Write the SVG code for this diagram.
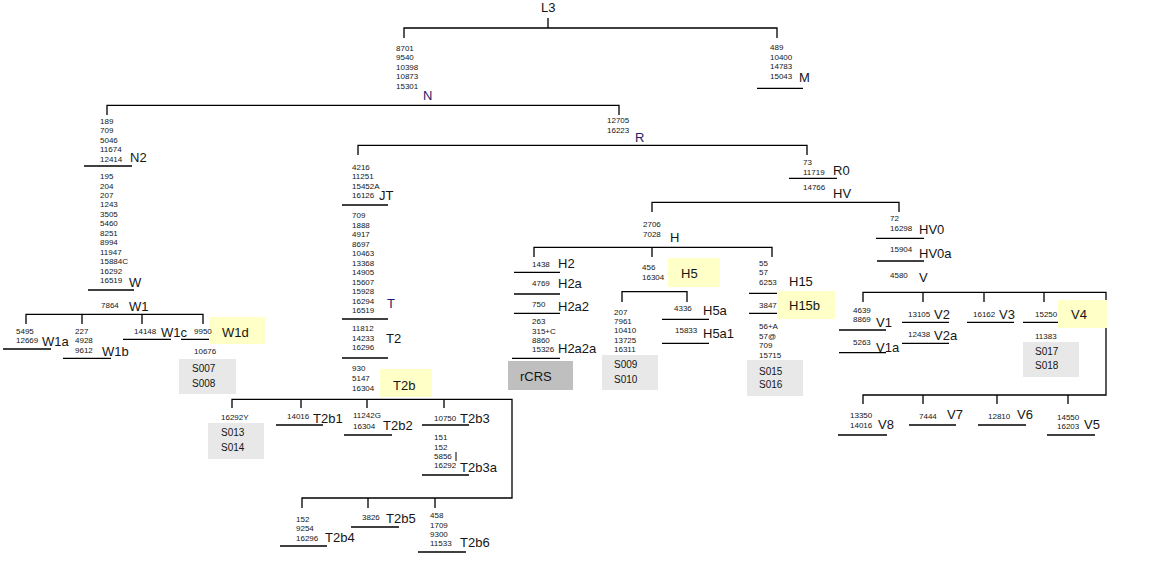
<svg xmlns="http://www.w3.org/2000/svg" width="1150" height="563" viewBox="0 0 1150 563">
<style>
text{font-family:"Liberation Sans",Arial,sans-serif;fill:#151515}
.m{font-size:8px}
.l{font-size:13px}
.s{font-size:10px}
.nv{fill:#1c1c6e}
.c line,.c path{stroke:#000;stroke-width:1.3;fill:none}
.hl{fill:#ffffc8}
.sb{fill:#e8e8e8}
</style>
<rect width="1150" height="563" fill="#fff"/>
<g class="c" id="connectors">
<path d="M548 18V28M404 38V28H777V38"/>
<line x1="757" y1="88.3" x2="803" y2="88.3"/>
<path d="M107 115V105.3H619V115"/>
<path d="M358 155V145.3H807V155"/>
<line x1="789" y1="178.3" x2="837" y2="178.3"/>
<path d="M652 212V202.3H899V212"/>
<path d="M534 257V247.3H772V257M652 247.3V257"/>
<line x1="514" y1="272.3" x2="560" y2="272.3"/>
<line x1="514" y1="294" x2="560" y2="294"/>
<line x1="514" y1="313.3" x2="560" y2="313.3"/>
<line x1="512" y1="358.3" x2="560" y2="358.3"/>
<path d="M622 302V291.7H687V302"/>
<line x1="662" y1="319.3" x2="709" y2="319.3"/>
<line x1="662" y1="343.3" x2="709" y2="343.3"/>
<line x1="749" y1="293.3" x2="792" y2="293.3"/>
<line x1="749" y1="313.3" x2="792" y2="313.3"/>
<line x1="876" y1="238.3" x2="924" y2="238.3"/>
<line x1="877" y1="261" x2="924" y2="261"/>
<path d="M863 302V292.3H1106V395H863V404M923 292.3V302M984 292.3V302M1044 292.3V302M923 395V404M997 395V404M1068 395V404"/>
<line x1="839" y1="330" x2="886" y2="330"/>
<line x1="839" y1="352.7" x2="886" y2="352.7"/>
<line x1="902" y1="322.3" x2="949" y2="322.3"/>
<line x1="902" y1="343.3" x2="949" y2="343.3"/>
<line x1="967" y1="322.3" x2="1014" y2="322.3"/>
<line x1="1023" y1="322.3" x2="1071" y2="322.3"/>
<line x1="838" y1="435" x2="887" y2="435"/>
<line x1="909" y1="425" x2="956" y2="425"/>
<line x1="978" y1="425" x2="1026" y2="425"/>
<line x1="1047" y1="435" x2="1095" y2="435"/>
<line x1="84" y1="166" x2="132" y2="166"/>
<line x1="88" y1="290" x2="134" y2="290"/>
<path d="M26 324V314.3H203V324M82 314.3V324M142 314.3V324"/>
<line x1="3" y1="349" x2="51" y2="349"/>
<line x1="63" y1="358.3" x2="111" y2="358.3"/>
<line x1="123" y1="339.3" x2="171" y2="339.3"/>
<line x1="181" y1="339.3" x2="229" y2="339.3"/>
<line x1="342" y1="205" x2="388" y2="205"/>
<line x1="342" y1="319" x2="388" y2="319"/>
<line x1="342" y1="358" x2="388" y2="358"/>
<path d="M232 408V399.3H512V498H302V508M301 399.3V408M367 399.3V408M444 399.3V408M368 498V508M435 498V508"/>
<line x1="276" y1="425" x2="323" y2="425"/>
<line x1="344" y1="435" x2="392" y2="435"/>
<line x1="422" y1="425" x2="469" y2="425"/>
<line x1="456" y1="452" x2="456" y2="461" style="stroke-width:1"/>
<line x1="422" y1="475" x2="469" y2="475"/>
<line x1="280" y1="546" x2="327" y2="546"/>
<line x1="351" y1="527" x2="399" y2="527"/>
<line x1="418" y1="552" x2="466" y2="552"/>
</g>
<g id="L3"><text class="l" x="541" y="12">L3</text></g>
<g id="N"><text class="m" x="396"><tspan x="396" y="51">8701</tspan><tspan x="396" y="60">9540</tspan><tspan x="396" y="70">10398</tspan><tspan x="396" y="79">10873</tspan><tspan x="396" y="89">15301</tspan></text><text class="l nv" x="423" y="100">N</text></g>
<g id="M"><text class="m"><tspan x="770" y="50">489</tspan><tspan x="770" y="60">10400</tspan><tspan x="770" y="69">14783</tspan><tspan x="770" y="79">15043</tspan></text><text class="l" x="799" y="82">M</text></g>
<g id="R"><text class="m"><tspan x="607" y="123">12705</tspan><tspan x="607" y="133">16223</tspan></text><text class="l nv" x="635" y="142">R</text></g>
<g id="R0"><text class="m"><tspan x="803" y="165">73</tspan><tspan x="803" y="175">11719</tspan></text><text class="l" x="833" y="175">R0</text></g>
<g id="HV"><text class="m" x="803" y="190">14766</text><text class="l" x="833" y="198">HV</text></g>
<g id="H"><text class="m"><tspan x="643" y="227">2706</tspan><tspan x="643" y="237">7028</tspan></text><text class="l" x="670" y="242">H</text></g>
<g id="H2"><text class="m" x="532" y="267">1438</text><text class="l" x="558" y="268">H2</text></g>
<g id="H2a"><text class="m" x="532" y="286">4769</text><text class="l" x="558" y="288">H2a</text></g>
<g id="H2a2"><text class="m" x="532" y="307">750</text><text class="l" x="558" y="311">H2a2</text></g>
<g id="H2a2a"><text class="m"><tspan x="532" y="324">263</tspan><tspan x="532" y="334">315+C</tspan><tspan x="532" y="343">8860</tspan><tspan x="532" y="352">15326</tspan></text><text class="l" x="558" y="353">H2a2a</text></g>
<g id="rCRS"><rect x="508" y="361" width="65" height="29" fill="#bfbfbf"/><text class="l" x="520" y="381">rCRS</text></g>
<g id="H5"><rect class="hl" x="668" y="258" width="52" height="29"/><text class="m"><tspan x="642" y="270">456</tspan><tspan x="642" y="280">16304</tspan></text><text class="l" x="681" y="278">H5</text></g>
<g id="H5-samples"><text class="m"><tspan x="614" y="315">207</tspan><tspan x="614" y="324">7961</tspan><tspan x="614" y="333">10410</tspan><tspan x="614" y="343">13725</tspan><tspan x="614" y="352">16311</tspan></text><rect class="sb" x="602" y="355" width="56" height="35"/><text class="s"><tspan x="614" y="368">S009</tspan><tspan x="614" y="383">S010</tspan></text></g>
<g id="H5a"><text class="m" x="674" y="311">4336</text><text class="l" x="703" y="315">H5a</text></g>
<g id="H5a1"><text class="m" x="675" y="333">15833</text><text class="l" x="703" y="338">H5a1</text></g>
<g id="H15"><text class="m"><tspan x="759" y="266">55</tspan><tspan x="759" y="275">57</tspan><tspan x="759" y="285">6253</tspan></text><text class="l" x="789" y="286">H15</text></g>
<g id="H15b"><rect class="hl" x="777" y="291" width="58" height="28"/><text class="m" x="759" y="308">3847</text><text class="l" x="789" y="310">H15b</text><text class="m"><tspan x="759" y="329">56+A</tspan><tspan x="759" y="339">57@</tspan><tspan x="759" y="348">709</tspan><tspan x="759" y="358">15715</tspan></text><rect class="sb" x="747" y="360" width="56" height="36"/><text class="s"><tspan x="759" y="375">S015</tspan><tspan x="759" y="388">S016</tspan></text></g>
<g id="HV0"><text class="m"><tspan x="890" y="221">72</tspan><tspan x="890" y="231">16298</tspan></text><text class="l" x="919" y="234">HV0</text></g>
<g id="HV0a"><text class="m" x="890" y="252">15904</text><text class="l" x="919" y="258">HV0a</text></g>
<g id="V"><text class="m" x="890" y="278">4580</text><text class="l" x="919" y="282">V</text></g>
<g id="V1"><text class="m"><tspan x="853" y="313">4639</tspan><tspan x="853" y="322">8869</tspan></text><text class="l" x="876" y="327">V1</text></g>
<g id="V1a"><text class="m" x="853" y="345">5263</text><text class="l" x="876" y="352">V1a</text></g>
<g id="V2"><text class="m" x="908" y="317">13105</text><text class="l" x="934" y="319">V2</text></g>
<g id="V2a"><text class="m" x="908" y="337">12438</text><text class="l" x="934" y="340">V2a</text></g>
<g id="V3"><text class="m" x="973" y="317">16162</text><text class="l" x="999" y="319">V3</text></g>
<g id="V4"><rect class="hl" x="1058" y="300" width="49" height="28"/><text class="m" x="1035" y="317">15250</text><text class="l" x="1071" y="319">V4</text><text class="m" x="1035" y="339">11383</text><rect class="sb" x="1023" y="342" width="56" height="35"/><text class="s"><tspan x="1035" y="355">S017</tspan><tspan x="1035" y="369">S018</tspan></text></g>
<g id="V8"><text class="m"><tspan x="850" y="418">13350</tspan><tspan x="850" y="428">14016</tspan></text><text class="l" x="878" y="429">V8</text></g>
<g id="V7"><text class="m" x="919" y="419">7444</text><text class="l" x="947" y="419">V7</text></g>
<g id="V6"><text class="m" x="988" y="419">12810</text><text class="l" x="1017" y="419">V6</text></g>
<g id="V5"><text class="m"><tspan x="1057" y="420">14550</tspan><tspan x="1057" y="429">16203</tspan></text><text class="l" x="1084" y="429">V5</text></g>
<g id="N2"><text class="m"><tspan x="100" y="124">189</tspan><tspan x="100" y="133">709</tspan><tspan x="100" y="143">5046</tspan><tspan x="100" y="152">11674</tspan><tspan x="100" y="162">12414</tspan></text><text class="l" x="130" y="162">N2</text></g>
<g id="W"><text class="m"><tspan x="100" y="179">195</tspan><tspan x="100" y="189">204</tspan><tspan x="100" y="198">207</tspan><tspan x="100" y="207">1243</tspan><tspan x="100" y="217">3505</tspan><tspan x="100" y="226">5460</tspan><tspan x="100" y="236">8251</tspan><tspan x="100" y="245">8994</tspan><tspan x="100" y="255">11947</tspan><tspan x="100" y="264">15884C</tspan><tspan x="100" y="274">16292</tspan><tspan x="100" y="283">16519</tspan></text><text class="l" x="129" y="287">W</text></g>
<g id="W1"><text class="m" x="101" y="308">7864</text><text class="l" x="129" y="311">W1</text></g>
<g id="W1a"><text class="m"><tspan x="16" y="334">5495</tspan><tspan x="16" y="343">12669</tspan></text><text class="l" x="42" y="346">W1a</text></g>
<g id="W1b"><text class="m"><tspan x="75" y="334">227</tspan><tspan x="75" y="343">4928</tspan><tspan x="75" y="353">9612</tspan></text><text class="l" x="102" y="356">W1b</text></g>
<g id="W1c"><text class="m" x="134" y="334">14148</text><text class="l" x="161" y="337">W1c</text></g>
<g id="W1d"><rect class="hl" x="209" y="317" width="56" height="27"/><text class="m" x="194" y="334">9950</text><text class="l" x="222" y="337">W1d</text><text class="m" x="194" y="354">10676</text><rect class="sb" x="179" y="359" width="57" height="35"/><text class="s"><tspan x="192" y="372">S007</tspan><tspan x="192" y="387">S008</tspan></text></g>
<g id="JT"><text class="m"><tspan x="352" y="170">4216</tspan><tspan x="352" y="179">11251</tspan><tspan x="352" y="189">15452A</tspan><tspan x="352" y="198">16126</tspan></text><text class="l" x="379" y="200">JT</text></g>
<g id="T"><text class="m"><tspan x="352" y="218">709</tspan><tspan x="352" y="227.5">1888</tspan><tspan x="352" y="237">4917</tspan><tspan x="352" y="246.5">8697</tspan><tspan x="352" y="256">10463</tspan><tspan x="352" y="265.5">13368</tspan><tspan x="352" y="275">14905</tspan><tspan x="352" y="284.5">15607</tspan><tspan x="352" y="294">15928</tspan><tspan x="352" y="303.5">16294</tspan><tspan x="352" y="313">16519</tspan></text><text class="l nv" x="387" y="308">T</text></g>
<g id="T2"><text class="m"><tspan x="352" y="331">11812</tspan><tspan x="352" y="341">14233</tspan><tspan x="352" y="350">16296</tspan></text><text class="l" x="386" y="343">T2</text></g>
<g id="T2b"><rect class="hl" x="380" y="369" width="52" height="28"/><text class="m"><tspan x="352" y="371">930</tspan><tspan x="352" y="381">5147</tspan><tspan x="352" y="391">16304</tspan></text><text class="l" x="393" y="390">T2b</text></g>
<g id="T2b-samples"><text class="m" x="221" y="420">16292Y</text><rect class="sb" x="208" y="423" width="56" height="36"/><text class="s"><tspan x="221" y="436">S013</tspan><tspan x="221" y="451">S014</tspan></text></g>
<g id="T2b1"><text class="m" x="287" y="419">14016</text><text class="l" x="313" y="423">T2b1</text></g>
<g id="T2b2"><text class="m"><tspan x="353" y="418">11242G</tspan><tspan x="353" y="429">16304</tspan></text><text class="l" x="383" y="430">T2b2</text></g>
<g id="T2b3"><text class="m" x="434" y="421">10750</text><text class="l" x="460" y="423">T2b3</text></g>
<g id="T2b3a"><text class="m"><tspan x="434" y="440">151</tspan><tspan x="434" y="450">152</tspan><tspan x="434" y="459">5856</tspan><tspan x="434" y="468">16292</tspan></text><text class="l" x="460" y="472">T2b3a</text></g>
<g id="T2b4"><text class="m"><tspan x="296" y="522">152</tspan><tspan x="296" y="531">9254</tspan><tspan x="296" y="541">16296</tspan></text><text class="l" x="325" y="542">T2b4</text></g>
<g id="T2b5"><text class="m" x="362" y="520">3826</text><text class="l" x="386" y="523">T2b5</text></g>
<g id="T2b6"><text class="m"><tspan x="430" y="518">458</tspan><tspan x="430" y="528">1709</tspan><tspan x="430" y="537">9300</tspan><tspan x="430" y="546">11533</tspan></text><text class="l" x="460" y="547">T2b6</text></g>
</svg>
